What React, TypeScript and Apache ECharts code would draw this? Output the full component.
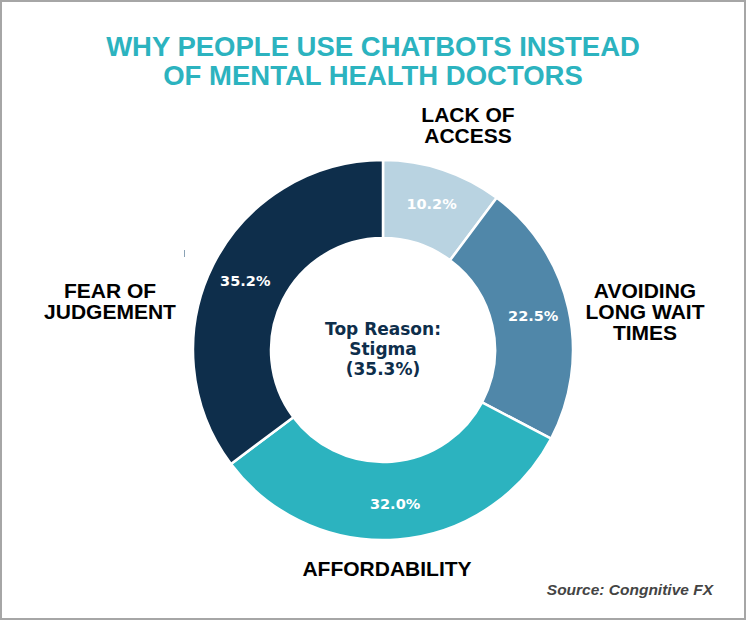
import React, { useEffect, useRef } from 'react';
import * as echarts from 'echarts';

const categories = ['LACK OF\nACCESS', 'AVOIDING\nLONG WAIT\nTIMES', 'AFFORDABILITY', 'FEAR OF\nJUDGEMENT'];
const shares = [10.2, 22.5, 32.0, 35.2];
const sliceColors = ['#b9d3e1', '#5087a9', '#2cb3bf', '#0e2e4b'];
const centerNote = 'Top Reason:\nStigma\n(35.3%)';
const titleText = 'WHY PEOPLE USE CHATBOTS INSTEAD\nOF MENTAL HEALTH DOCTORS';
const sourceText = 'Source: Congnitive FX';

// where each outer category label sits (centre of the text block)
const labelSpots = [
  [468, 125],
  [645, 311],
  [387, 568],
  [110, 301],
];

const App = () => {
  const chartRef = useRef<any>(null);

  useEffect(() => {
    document.body.style.margin = '0';
    const chart = echarts.init(chartRef.current, null, { renderer: 'svg' });

    const option: any = {
      animation: false,
      backgroundColor: '#fff',
      title: {
        text: titleText,
        left: 'center',
        top: 27,
        textStyle: {
          fontFamily: 'Liberation Sans',
          fontWeight: 'bold',
          fontSize: 27.5,
          lineHeight: 29,
          color: '#2cb3bf',
        },
      },
      series: [
        {
          type: 'pie',
          center: [383, 350],
          radius: [112, 190],
          startAngle: 90,
          clockwise: true,
          itemStyle: { borderColor: '#fff', borderWidth: 2.5 },
          label: {
            position: 'inside',
            formatter: (p: any) => p.value.toFixed(1) + '%',
            color: '#fff',
            fontFamily: 'DejaVu Sans',
            fontWeight: 'bold',
            fontSize: 14.5,
          },
          labelLine: { show: false },
          emphasis: { disabled: true },
          data: shares.map((v, i) => ({
            name: categories[i],
            value: v,
            itemStyle: { color: sliceColors[i] },
          })),
        },
      ],
      graphic: [
        ...categories.map((c, i) => ({
          type: 'text',
          x: labelSpots[i][0],
          y: labelSpots[i][1],
          style: {
            text: c,
            align: 'center',
            verticalAlign: 'middle',
            fontFamily: 'Liberation Sans',
            fontWeight: 'bold',
            fontSize: 21,
            lineHeight: 21,
            fill: '#000',
          },
        })),
        {
          type: 'text',
          x: 383,
          y: 349,
          style: {
            text: centerNote,
            align: 'center',
            verticalAlign: 'middle',
            fontFamily: 'DejaVu Sans',
            fontWeight: 'bold',
            fontSize: 17,
            lineHeight: 20,
            fill: '#0e2e4b',
          },
        },
        {
          type: 'text',
          right: 33,
          top: 581,
          style: {
            text: sourceText,
            fontFamily: 'Liberation Sans',
            fontWeight: 'bold',
            fontStyle: 'italic',
            fontSize: 15.5,
            fill: '#444',
          },
        },
        {
          type: 'line',
          shape: { x1: 184.5, y1: 250, x2: 184.5, y2: 257 },
          style: { stroke: '#8aa2b5', lineWidth: 1 },
        },
      ],
    };

    chart.setOption(option);

    return () => {
      chart.dispose();
    };
  }, []);

  return (
    <div
      style={{
        width: 746,
        height: 620,
        boxSizing: 'border-box',
        border: '2px solid #a6a6a6',
        position: 'relative',
        overflow: 'hidden',
      }}
    >
      <div
        ref={chartRef}
        style={{ position: 'absolute', left: -2, top: -2, width: '746px', height: '620px' }}
      />
    </div>
  );
};

export default App;
